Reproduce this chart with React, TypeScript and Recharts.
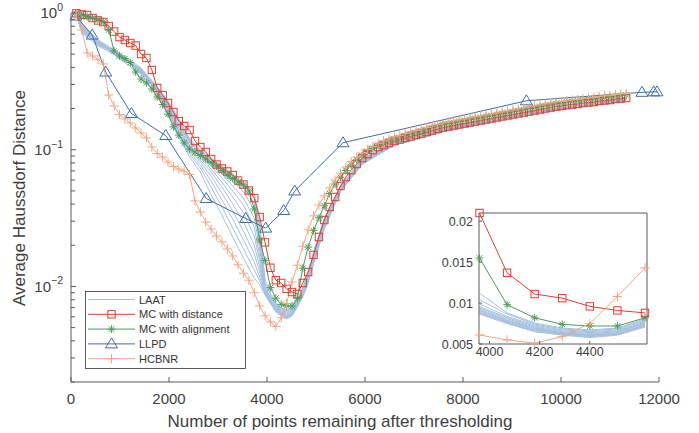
import React from 'react';
import { ComposedChart, Line, XAxis, YAxis, Legend, Label } from 'recharts';

const FONT = '"Liberation Sans", Arial, Helvetica, sans-serif';
const TEXT = '#404040';
const AXIS = '#5a5a5a';
const C_LAAT = '#a6c0e0';
const C_DIST = '#d9412e';
const C_ALIGN = '#4f9a60';
const C_LLPD = '#3d6fa5';
const C_HCBNR = '#f4a582';

// shared x positions (number of points remaining)
const xs = [110,220,330,440,550,660,770,880,990,1100,1210,1320,1430,1540,1650,1760,1870,1980,2090,2200,2310,2420,2530,2640,2750,2860,2970,3080,3190,3300,3410,3520,3630,3740,3850,3960,4070,4180,4290,4400,4510,4620,4730,4840,4950,5060,5170,5280,5390,5500,5610,5720,5830,5940,6050,6160,6270,6380,6490,6600,6710,6820,6930,7040,7150,7260,7370,7480,7590,7700,7810,7920,8030,8140,8250,8360,8470,8580,8690,8800,8910,9020,9130,9240,9350,9460,9570,9680,9790,9900,10010,10120,10230,10340,10450,10560,10670,10780,10890,11000,11110,11220,11330];

const mcDistance = [0.995,0.975,0.967,0.919,0.882,0.859,0.803,0.732,0.667,0.635,
0.603,0.578,0.501,0.469,0.383,0.283,0.251,0.2196,0.1887,0.162,
0.149,0.1394,0.1158,0.1046,0.0962,0.0855,0.0779,0.0729,0.0693,0.0653,
0.0595,0.0556,0.0503,0.0443,0.0322,0.021,0.0137,0.0111,0.0106,0.0096,
0.0091,0.0088,0.0106,0.01275,0.017,0.023,0.0306,0.0381,0.0451,0.0543,
0.0631,0.071,0.0786,0.087,0.093,0.0995,0.1046,0.1082,0.1119,0.1158,
0.1188,0.1218,0.1249,0.1281,0.1313,0.1347,0.1382,0.1417,0.1453,0.1478,
0.1503,0.1529,0.1555,0.1581,0.1608,0.1636,0.1663,0.1692,0.172,0.175,
0.178,0.181,0.184,0.187,0.19,0.1935,0.1968,0.2002,0.2036,0.207,
0.2088,0.2123,0.2141,0.216,0.2196,0.2214,0.2233,0.2272,0.2291,0.231,
0.2349,0.2368,0.2388];

const mcAlignment = [0.983,0.975,0.943,0.919,0.896,0.866,0.751,0.527,0.485,0.464,
0.434,0.37,0.329,0.308,0.278,0.243,0.214,0.182,0.147,0.128,
0.112,0.1013,0.0962,0.0907,0.0855,0.0806,0.076,0.0705,0.0653,0.0616,
0.058,0.0552,0.0499,0.0368,0.0219,0.0155,0.0098,0.0082,0.0074,0.0072,
0.0072,0.0082,0.0136,0.0194,0.0256,0.0318,0.0389,0.0478,0.0561,0.0629,
0.0705,0.0773,0.0841,0.0899,0.097,0.1021,0.1075,0.1121,0.1159,0.1199,
0.1229,0.1271,0.1304,0.1337,0.1371,0.1406,0.1454,0.1492,0.153,0.1556,
0.1582,0.1609,0.1636,0.1664,0.1692,0.1721,0.175,0.178,0.181,0.184,
0.1872,0.1904,0.1936,0.1969,0.2003,0.2037,0.2071,0.2106,0.2142,0.2178,
0.2197,0.2234,0.2253,0.2272,0.2311,0.233,0.235,0.239,0.241,0.2431,
0.2472,0.2493,0.2514];

const hcbnr = [0.983,0.751,0.51,0.485,0.458,0.424,0.251,0.2089,0.181,0.1678,
0.1569,0.1442,0.1326,0.1219,0.1048,0.0937,0.0884,0.0813,0.0754,0.0722,
0.0699,0.0658,0.0422,0.035,0.0296,0.0263,0.0234,0.0212,0.0188,0.0167,
0.0144,0.0125,0.0111,0.009,0.0072,0.0061,0.0055,0.0051,0.0059,0.0075,
0.0108,0.0143,0.0197,0.0259,0.0328,0.0394,0.0459,0.0525,0.06,0.0675,
0.0747,0.0819,0.0884,0.0946,0.1003,0.1057,0.1112,0.1159,0.1199,0.124,
0.1271,0.1315,0.1349,0.1383,0.1418,0.1454,0.1492,0.153,0.1569,0.1596,
0.1623,0.165,0.1678,0.1707,0.1736,0.1765,0.1795,0.1825,0.1856,0.1888,
0.192,0.1953,0.1986,0.202,0.2054,0.2089,0.2124,0.216,0.2197,0.2234,
0.2253,0.2291,0.2311,0.233,0.237,0.239,0.241,0.2451,0.2472,0.2493,
0.2535,0.2557,0.2578];

const llpdX = [100,433,708,1233,1933,2759,3565,3973,4341,4565,5551,9294,11653,11892,11959];
const llpdY = [0.95,0.69,0.37,0.184,0.127,0.044,0.0314,0.0267,0.0359,0.0499,0.1125,0.228,0.263,0.265,0.265];

const laatX = [110,220,550,990,1430,1760,1980,2200,2420,2640,2860,3080,3300,3520,3740,3850,3960,4070,4180,4290,4400,4510,4620,4730,4840,4950,5170,5500,5940,6600,7700,9350,11330];

const laatRuns = [
[0.983,0.831,0.635,0.51,0.396,0.288,0.227,0.168,0.12,0.0995,0.087,0.076,0.0664,0.058,0.0482,0.0296,0.0112,0.0088,0.00756,0.00695,0.00672,0.00695,0.00809,0.00973,0.0128,0.0179,0.0317,0.0543,0.0855,0.115,0.1467,0.1888,0.237],
[0.967,0.777,0.614,0.493,0.39,0.283,0.22,0.162,0.118,0.0978,0.0855,0.0747,0.0642,0.0561,0.0451,0.0268,0.0104,0.00865,0.00744,0.00684,0.00661,0.00684,0.00795,0.00957,0.0126,0.0176,0.0311,0.0538,0.0848,0.114,0.1461,0.1882,0.2362],
[0.983,0.751,0.593,0.485,0.383,0.278,0.216,0.16,0.116,0.0962,0.0841,0.0722,0.0621,0.0534,0.0408,0.0238,0.0099,0.00837,0.00731,0.00672,0.0065,0.00672,0.00782,0.00941,0.0123,0.0173,0.0306,0.0534,0.0841,0.1134,0.1455,0.1875,0.2354],
[0.951,0.803,0.624,0.501,0.377,0.274,0.212,0.154,0.114,0.0946,0.0813,0.0699,0.059,0.0491,0.0362,0.0215,0.00957,0.00823,0.00719,0.00661,0.00639,0.00661,0.00769,0.00926,0.0121,0.017,0.0301,0.0529,0.0834,0.1129,0.1442,0.1869,0.2346],
[0.967,0.726,0.603,0.477,0.39,0.278,0.209,0.152,0.112,0.093,0.0786,0.0664,0.0543,0.0443,0.0317,0.0191,0.00941,0.00809,0.00707,0.0065,0.00628,0.0065,0.00756,0.0091,0.0119,0.0167,0.0296,0.0525,0.0827,0.1121,0.1436,0.1862,0.2338],
[0.983,0.764,0.583,0.493,0.37,0.269,0.205,0.147,0.108,0.0899,0.076,0.0621,0.0499,0.0394,0.0272,0.017,0.00926,0.00795,0.00695,0.00639,0.00618,0.0065,0.00756,0.00895,0.0117,0.0164,0.0291,0.052,0.082,0.1115,0.143,0.1856,0.233],
[0.935,0.79,0.614,0.469,0.383,0.264,0.202,0.144,0.107,0.087,0.0722,0.058,0.0451,0.0345,0.0234,0.0154,0.0091,0.00782,0.00695,0.00639,0.00608,0.00639,0.00744,0.00895,0.0115,0.0161,0.0286,0.0516,0.0813,0.111,0.1418,0.185,0.2323],
[0.967,0.739,0.593,0.501,0.364,0.274,0.199,0.14,0.103,0.0841,0.0687,0.0534,0.0401,0.0296,0.0201,0.0139,0.0091,0.00782,0.00684,0.00628,0.00608,0.00628,0.00731,0.0088,0.0114,0.0159,0.0281,0.0512,0.0806,0.1102,0.1411,0.1844,0.2315],
[0.951,0.817,0.635,0.485,0.377,0.26,0.195,0.137,0.0995,0.0813,0.0642,0.0482,0.0356,0.0254,0.0173,0.0128,0.00895,0.00769,0.00672,0.00628,0.00597,0.00628,0.00731,0.00865,0.0112,0.0156,0.0277,0.0507,0.0799,0.1097,0.1404,0.1838,0.2307],
[0.983,0.714,0.574,0.477,0.383,0.256,0.189,0.133,0.0962,0.0773,0.059,0.0429,0.0311,0.0219,0.0151,0.0117,0.0088,0.00769,0.00672,0.00618,0.00597,0.00618,0.00719,0.00865,0.011,0.0154,0.0272,0.0503,0.0793,0.1091,0.1395,0.1831,0.2299],
[0.967,0.777,0.603,0.493,0.37,0.264,0.186,0.128,0.093,0.0735,0.0534,0.0381,0.0268,0.0188,0.0132,0.011,0.0088,0.00756,0.00661,0.00618,0.00587,0.00618,0.00719,0.00851,0.0108,0.0148,0.0268,0.0499,0.0786,0.1084,0.1388,0.1825,0.2291],
[0.951,0.751,0.624,0.461,0.358,0.251,0.18,0.124,0.0884,0.0687,0.0466,0.0333,0.023,0.0161,0.0115,0.0103,0.00865,0.0075,0.0065,0.00608,0.00578,0.00608,0.00707,0.00837,0.0106,0.0146,0.0263,0.0495,0.078,0.1079,0.1382,0.1819,0.2283],
];

const xTicks = [0, 2000, 4000, 6000, 8000, 10000, 12000];
const yTicks = [0.002,0.003,0.004,0.005,0.006,0.007,0.008,0.009,0.01,0.02,0.03,0.04,0.05,0.06,0.07,0.08,0.09,0.1,0.2,0.3,0.4,0.5,0.6,0.7,0.8,0.9,1];
const insetXTicks = [4000, 4200, 4400];
const insetYTicks = [0.005, 0.01, 0.015, 0.02];
const insetYLabels = ['0.005', '0.01', '0.015', '0.02'];

const pair = (x: number[], y: number[]) => x.map((v, i) => ({ x: v, y: y[i] }));
const distData = pair(xs, mcDistance);
const alignData = pair(xs, mcAlignment);
const hcbnrData = pair(xs, hcbnr);
const llpdData = pair(llpdX, llpdY);
const laatData = laatRuns.map((r) => pair(laatX, r));
const inInset = (d: { x: number }) => d.x >= 3950 && d.x <= 4630;

// markers
const Square = ({ cx, cy, color }: any) => (
  <rect x={cx - 3.7} y={cy - 3.7} width={7.4} height={7.4} fill="none" stroke={color} strokeWidth={1} />
);
const Asterisk = ({ cx, cy, color }: any) => {
  const r = 3.9, d = 2.8;
  return (
    <path d={`M${cx - r},${cy}H${cx + r}M${cx},${cy - r}V${cy + r}M${cx - d},${cy - d}L${cx + d},${cy + d}M${cx - d},${cy + d}L${cx + d},${cy - d}`}
      stroke={color} strokeWidth={1} fill="none" />
  );
};
const Triangle = ({ cx, cy, color }: any) => (
  <path d={`M${cx},${cy - 6}L${cx + 6},${cy + 4}L${cx - 6},${cy + 4}Z`} stroke={color} strokeWidth={1} fill="none" />
);
const Plus = ({ cx, cy, color }: any) => {
  const r = 4.6;
  return <path d={`M${cx - r},${cy}H${cx + r}M${cx},${cy - r}V${cy + r}`} stroke={color} strokeWidth={1} fill="none" />;
};

const makeDot = (Shape: any, color: string) => (p: any) => {
  const { cx, cy, index } = p;
  if (cx == null || cy == null) return <g key={`n${index}`} />;
  return <Shape key={`d${index}`} cx={cx} cy={cy} color={color} />;
};

// ticks
const MainXTick = (p: any) => {
  const { x, y, payload } = p;
  return (
    <g>
      <line x1={x} x2={x} y1={y} y2={y - 5} stroke={AXIS} strokeWidth={1} />
      <text x={x} y={y + 21.5} textAnchor="middle" fontSize={15} fill={TEXT} fontFamily={FONT}>{payload.value}</text>
    </g>
  );
};
const MainYTick = (p: any) => {
  const { x, y, payload } = p;
  const lv = Math.log10(payload.value);
  const e = Math.round(lv);
  const major = Math.abs(lv - e) < 1e-6;
  return (
    <g>
      <line x1={x} x2={x + (major ? 5 : 4)} y1={y} y2={y} stroke={AXIS} strokeWidth={1} />
      {major && (
        <text x={x - 8} y={y + 5.3} textAnchor="end" fontSize={15} fill={TEXT} fontFamily={FONT}>
          10<tspan dy={-7.5} fontSize={10.5}>{e === 0 ? '0' : '\u2212' + String(-e)}</tspan>
        </text>
      )}
    </g>
  );
};
const InsetXTick = (p: any) => {
  const { x, y, payload } = p;
  return (
    <g>
      <line x1={x} x2={x} y1={y} y2={y - 3} stroke={AXIS} strokeWidth={1} />
      <text x={x} y={y + 12} textAnchor="middle" fontSize={12.5} fill={TEXT} fontFamily={FONT}>{payload.value}</text>
    </g>
  );
};
const InsetTopTick = (p: any) => {
  const { x, y } = p;
  return <line x1={x} x2={x} y1={y} y2={y + 3} stroke={AXIS} strokeWidth={1} />;
};
const InsetYTick = (p: any) => {
  const { x, y, payload, index } = p;
  return (
    <g>
      <line x1={x} x2={x + 3} y1={y} y2={y} stroke={AXIS} strokeWidth={1} />
      <text x={x - 6} y={y + 4.5} textAnchor="end" fontSize={12.5} fill={TEXT} fontFamily={FONT}>
        {insetYLabels[insetYTicks.indexOf(payload.value)] ?? insetYLabels[index]}
      </text>
    </g>
  );
};
const InsetRightTick = (p: any) => {
  const { x, y } = p;
  return <line x1={x} x2={x - 3} y1={y} y2={y} stroke={AXIS} strokeWidth={1} />;
};

const legendItems = [
  { name: 'LAAT', color: C_LAAT, Marker: null as any },
  { name: 'MC with distance', color: C_DIST, Marker: Square },
  { name: 'MC with alignment', color: C_ALIGN, Marker: Asterisk },
  { name: 'LLPD', color: C_LLPD, Marker: Triangle },
  { name: 'HCBNR', color: C_HCBNR, Marker: Plus },
];

const LegendBox = () => (
  <svg width={162} height={79} style={{ display: 'block' }}>
    <rect x={0.5} y={0.5} width={160} height={77} fill="#fff" stroke="#333" strokeWidth={0.8} />
    {legendItems.map((it, i) => {
      const cy = 8.5 + i * 14.8;
      const M = it.Marker;
      return (
        <g key={it.name}>
          <line x1={3} x2={50} y1={cy} y2={cy} stroke={it.color} strokeWidth={1} />
          {M && <M cx={26.5} cy={cy} color={it.color} />}
          <text x={54} y={cy + 4} fontSize={11} fill="#333" fontFamily={FONT}>{it.name}</text>
        </g>
      );
    })}
  </svg>
);

export default function App() {
  return (
    <div style={{ position: 'absolute', left: 0, top: 0, width: 699, height: 433, background: '#fff', fontFamily: FONT }}>
      <ComposedChart width={699} height={433} margin={{ top: 13, right: 40, bottom: 0, left: 0 }}>
        <XAxis type="number" dataKey="x" domain={[0, 12000]} ticks={xTicks} interval={0}
          tickSize={0} tickMargin={0} tickLine={false} height={51}
          axisLine={{ stroke: AXIS, strokeWidth: 1 }} tick={(p: any) => <MainXTick {...p} />}>
          <Label content={() => (
            <text x={340} y={427} textAnchor="middle" fontSize={17} fill={TEXT} fontFamily={FONT}>
              Number of points remaining after thresholding
            </text>
          )} />
        </XAxis>
        <YAxis type="number" scale="log" domain={[0.002, 1]} ticks={yTicks} interval={0}
          tickSize={0} tickMargin={0} tickLine={false} width={71}
          axisLine={{ stroke: AXIS, strokeWidth: 1 }} tick={(p: any) => <MainYTick {...p} />}>
          <Label content={() => (
            <text transform="translate(25,198) rotate(-90)" textAnchor="middle" fontSize={17} fill={TEXT} fontFamily={FONT}>
              Average Haussdorf Distance
            </text>
          )} />
        </YAxis>
        {laatData.map((d, i) => (
          <Line key={`laat${i}`} data={d} dataKey="y" type="linear" stroke={C_LAAT} strokeWidth={1}
            dot={false} activeDot={false} isAnimationActive={false} legendType="none" />
        ))}
        <Line data={distData} dataKey="y" type="linear" stroke={C_DIST} strokeWidth={1}
          dot={makeDot(Square, C_DIST)} activeDot={false} isAnimationActive={false} />
        <Line data={alignData} dataKey="y" type="linear" stroke={C_ALIGN} strokeWidth={1}
          dot={makeDot(Asterisk, C_ALIGN)} activeDot={false} isAnimationActive={false} />
        <Line data={llpdData} dataKey="y" type="linear" stroke={C_LLPD} strokeWidth={1}
          dot={makeDot(Triangle, C_LLPD)} activeDot={false} isAnimationActive={false} />
        <Line data={hcbnrData} dataKey="y" type="linear" stroke={C_HCBNR} strokeWidth={1}
          dot={makeDot(Plus, C_HCBNR)} activeDot={false} isAnimationActive={false} />
        <Legend layout="vertical" align="center" verticalAlign="middle"
          wrapperStyle={{ left: 85, top: 291, width: 162, height: 79, margin: 0, padding: 0, lineHeight: 0 }}
          content={() => <LegendBox />} />
      </ComposedChart>

      <div style={{ position: 'absolute', left: 440, top: 199 }}>
        <ComposedChart width={216} height={171} margin={{ top: 13, right: 0, bottom: 0, left: 0 }}>
          <XAxis xAxisId="b" type="number" dataKey="x" domain={[3958, 4628]} ticks={insetXTicks} interval={0}
            tickSize={0} tickMargin={0} tickLine={false} height={26}
            axisLine={{ stroke: AXIS, strokeWidth: 1 }} tick={(p: any) => <InsetXTick {...p} />} />
          <XAxis xAxisId="t" orientation="top" type="number" dataKey="x" domain={[3958, 4628]} ticks={insetXTicks} interval={0}
            tickSize={0} tickMargin={0} tickLine={false} height={1}
            axisLine={{ stroke: AXIS, strokeWidth: 1 }} tick={(p: any) => <InsetTopTick {...p} />} />
          <YAxis yAxisId="l" type="number" domain={[0.005, 0.021]} ticks={insetYTicks} interval={0}
            tickSize={0} tickMargin={0} tickLine={false} width={39}
            axisLine={{ stroke: AXIS, strokeWidth: 1 }} tick={(p: any) => <InsetYTick {...p} />} />
          <YAxis yAxisId="r" orientation="right" type="number" domain={[0.005, 0.021]} ticks={insetYTicks} interval={0}
            tickSize={0} tickMargin={0} tickLine={false} width={9}
            axisLine={{ stroke: AXIS, strokeWidth: 1 }} tick={(p: any) => <InsetRightTick {...p} />} />
          {laatData.map((d, i) => (
            <Line key={`ilaat${i}`} xAxisId="b" yAxisId="l" data={d.filter(inInset)} dataKey="y" type="linear"
              stroke={C_LAAT} strokeWidth={1} dot={false} activeDot={false} isAnimationActive={false} />
          ))}
          <Line xAxisId="b" yAxisId="l" data={distData.filter(inInset)} dataKey="y" type="linear" stroke={C_DIST}
            strokeWidth={1} dot={makeDot(Square, C_DIST)} activeDot={false} isAnimationActive={false} />
          <Line xAxisId="b" yAxisId="l" data={alignData.filter(inInset)} dataKey="y" type="linear" stroke={C_ALIGN}
            strokeWidth={1} dot={makeDot(Asterisk, C_ALIGN)} activeDot={false} isAnimationActive={false} />
          <Line xAxisId="b" yAxisId="l" data={hcbnrData.filter(inInset)} dataKey="y" type="linear" stroke={C_HCBNR}
            strokeWidth={1} dot={makeDot(Plus, C_HCBNR)} activeDot={false} isAnimationActive={false} />
        </ComposedChart>
      </div>
    </div>
  );
}
